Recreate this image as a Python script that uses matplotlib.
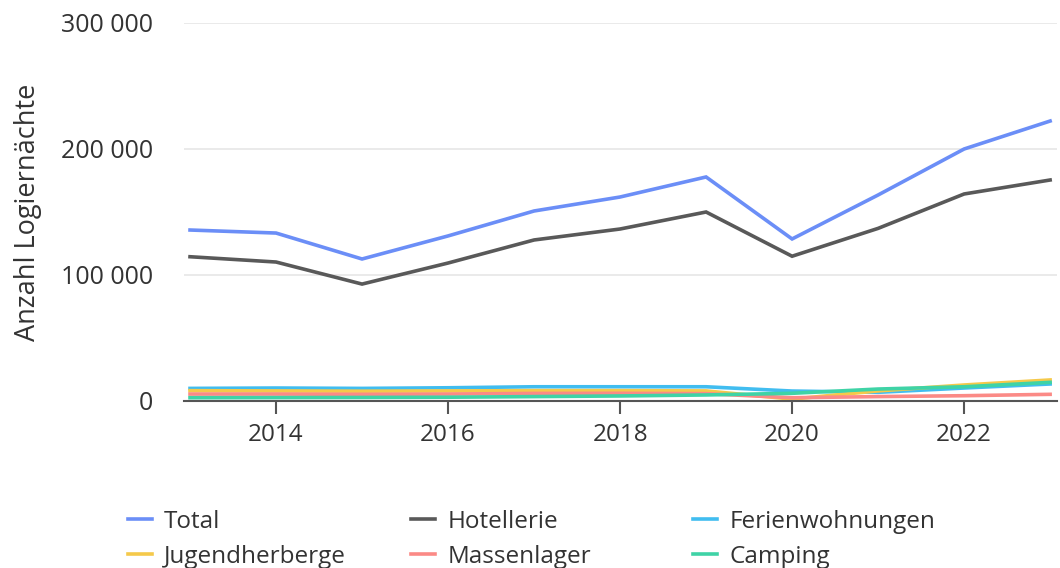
import matplotlib.pyplot as plt
import matplotlib.ticker as mticker

plt.rcParams['font.family'] = ['Open Sans', 'DejaVu Sans']

#------------ data ------------
years = [2013, 2014, 2015, 2016, 2017, 2018, 2019, 2020, 2021, 2022, 2023]
total = [135700, 133300, 112700, 131000, 150800, 161900, 177800, 128600, 163500, 200000, 222200]
hotellerie = [114500, 110300, 92800, 109500, 127800, 136500, 150000, 114900, 137000, 164300, 175400]
ferienwohnungen = [10000, 10300, 10000, 10500, 11300, 11300, 11300, 7900, 6900, 10300, 13500]
jugendherberge = [8200, 8000, 7800, 8000, 8200, 8200, 8000, 1500, 8000, 12700, 16700]
massenlager = [5500, 5500, 5300, 5500, 6000, 6100, 5800, 2600, 3500, 4200, 5300]
camping = [2600, 2700, 2800, 3000, 3500, 4000, 4800, 6100, 9500, 11300, 14800]

series = [
    ("Total", total, "#6b8ef7"),
    ("Hotellerie", hotellerie, "#595959"),
    ("Ferienwohnungen", ferienwohnungen, "#41bdf0"),
    ("Jugendherberge", jugendherberge, "#f5c94a"),
    ("Massenlager", massenlager, "#fb8a86"),
    ("Camping", camping, "#3fd3a6"),
]

txt = "#333333"

fig = plt.figure(figsize=(10.6, 5.68), dpi=100)
ax = fig.add_axes([184/1060, 1-401/568, (1057-184)/1060, (401-23)/568])

handles = []
for name, vals, col in series:
    h, = ax.plot(years, vals, color=col, linewidth=2.6, label=name, solid_joinstyle='miter')
    handles.append(h)

ax.set_xlim(2012.93, 2023.08)
ax.set_ylim(0, 300000)
ax.set_xticks([2014, 2016, 2018, 2020, 2022])
ax.set_yticks([0, 100000, 200000, 300000])
ax.yaxis.set_major_formatter(mticker.FuncFormatter(lambda v, p: f"{int(v):,}".replace(",", " ")))

ax.grid(axis='y', color='#e6e6e6', linewidth=1.2)
ax.set_axisbelow(True)
for s in ['top', 'right', 'left']:
    ax.spines[s].set_visible(False)
ax.spines['bottom'].set_color('#555555')
ax.spines['bottom'].set_linewidth(1.5)
ax.spines['bottom'].set_zorder(5)
ax.tick_params(axis='x', colors='#555555', length=9, width=1.5, labelsize=17.5, labelcolor=txt, pad=7)
ax.tick_params(axis='y', length=0, labelsize=18, labelcolor=txt, pad=22)
ax.set_ylabel("Anzahl Logiernächte", fontsize=19.5, color=txt, labelpad=14)

#------------ legend in three fixed columns ------------
xpos = [118/1060, 401/1060, 683/1060]
for i, x in enumerate(xpos):
    fig.legend(handles=[handles[i], handles[i+3]], loc='upper left',
               bbox_to_anchor=(x, 1-500/568), frameon=False, fontsize=17.5,
               handlelength=1.0, handletextpad=0.5, labelspacing=0.45,
               labelcolor=txt, borderaxespad=0)

fig.savefig("out.png", dpi=100)
